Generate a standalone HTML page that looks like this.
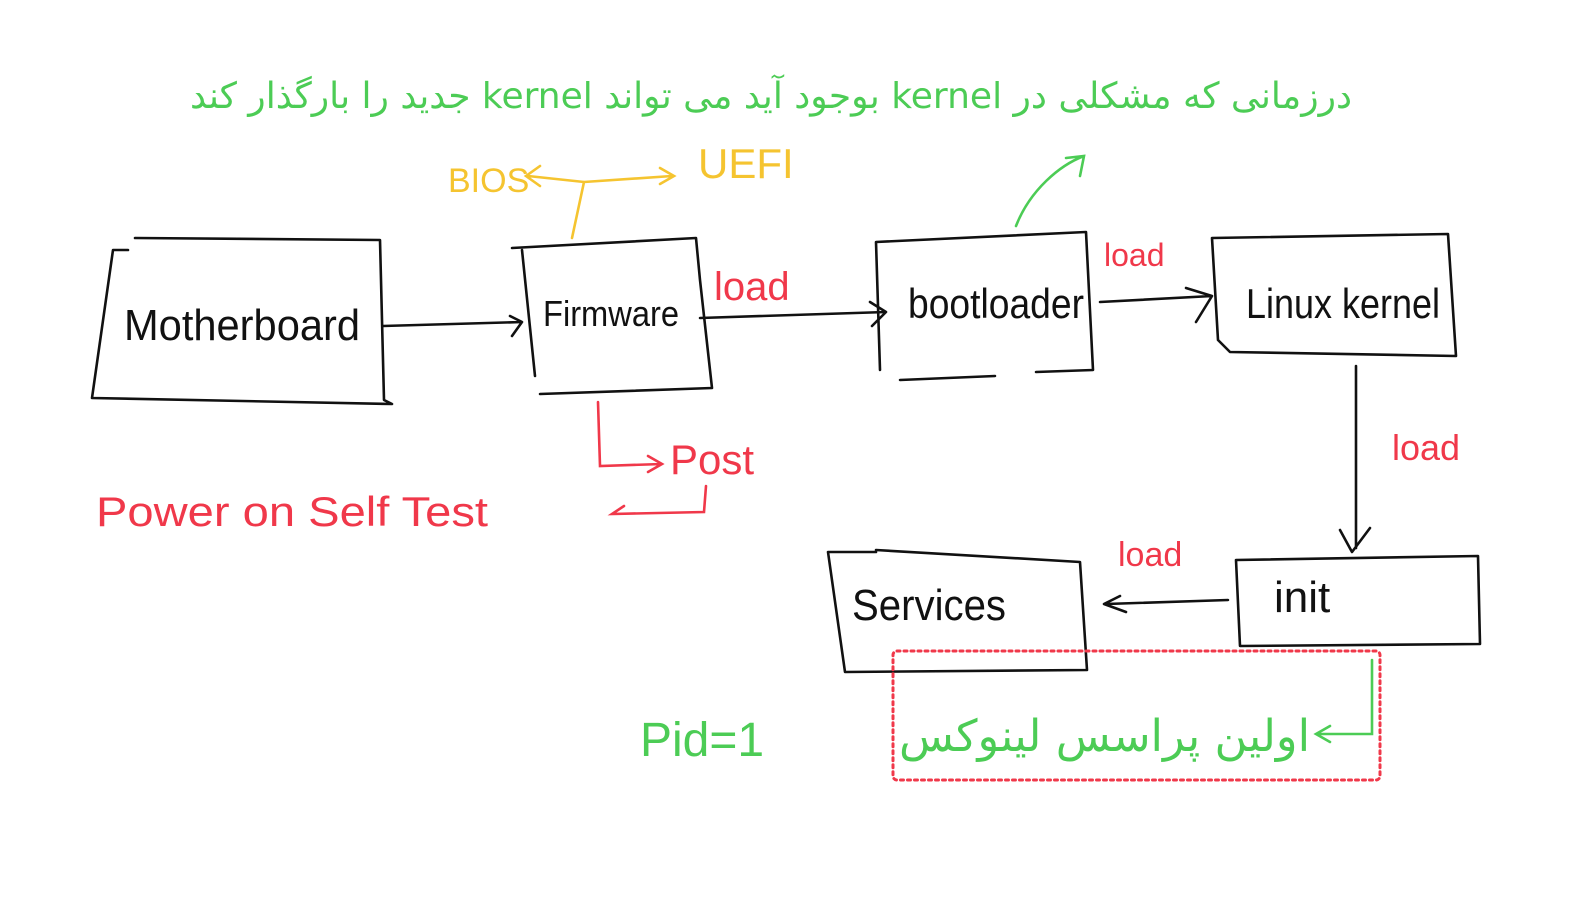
<!DOCTYPE html>
<html><head><meta charset="utf-8"><style>
html,body{margin:0;padding:0;background:#fff;}
body{position:relative;width:1585px;height:922px;overflow:hidden}
svg{display:block;position:absolute;left:0;top:0}
text{font-family:"Liberation Sans","DejaVu Sans",sans-serif;}
.ar{position:absolute;font-family:"DejaVu Sans","Noto Sans CJK SC",sans-serif;color:#4ccc55;direction:rtl;white-space:nowrap;transform-origin:right center}
</style></head><body>
<svg width="1585" height="922" viewBox="0 0 1585 922" xmlns="http://www.w3.org/2000/svg">
<rect width="1585" height="922" fill="#fff"/>
<g fill="none" stroke="#111" stroke-width="2.6" stroke-linecap="round" stroke-linejoin="round">
<path d="M135 238 L380 240 L384 400 L392 404 L92 398 L113 250 L128 250"/>
<path d="M512 248 L696 238 L700 280 L712 388 L540 394 M522 250 L535 376"/>
<path d="M876 242 L1086 232 L1093 370 L1036 372 M995 376 L900 380 M876 242 L880 370"/>
<path d="M1212 238 L1448 234 L1456 356 L1230 352 L1218 340 L1212 238"/>
<path d="M1236 560 L1478 556 L1480 644 L1240 646 L1236 560"/>
<path d="M876 550 L1080 562 L1087 670 L845 672 L828 552 L876 552"/>
<path d="M383 326 L522 322 M510 316 L522 322 L512 336"/>
<path d="M700 318 L886 312 M870 302 L886 312 L872 326"/>
<path d="M1100 302 L1212 296 M1186 288 L1212 296 L1196 322"/>
<path d="M1356 366 L1356 548 M1340 530 L1352 552 L1370 528"/>
<path d="M1228 600 L1106 604 M1120 596 L1104 604 L1126 612"/>
</g>
<g fill="#111">
<text x="124" y="340" font-size="44" textLength="236" lengthAdjust="spacingAndGlyphs">Motherboard</text>
<text x="543" y="326" font-size="36" textLength="136" lengthAdjust="spacingAndGlyphs">Firmware</text>
<text x="908" y="318" font-size="42" textLength="176" lengthAdjust="spacingAndGlyphs">bootloader</text>
<text x="1246" y="318" font-size="42" textLength="194" lengthAdjust="spacingAndGlyphs">Linux kernel</text>
<text x="1274" y="612" font-size="44">init</text>
<text x="852" y="620" font-size="44" textLength="154" lengthAdjust="spacingAndGlyphs">Services</text>
</g>
<g fill="#f0384a">
<text x="714" y="300" font-size="40">load</text>
<text x="1104" y="266" font-size="32">load</text>
<text x="1392" y="460" font-size="36">load</text>
<text x="1118" y="566" font-size="34">load</text>
<text x="670" y="474" font-size="42">Post</text>
<text x="96" y="526" font-size="42" textLength="392" lengthAdjust="spacingAndGlyphs">Power on Self Test</text>
</g>
<g fill="none" stroke="#f0384a" stroke-width="2.6" stroke-linecap="round">
<path d="M598 402 L600 466 L662 464 M648 456 L662 464 L648 472"/>
<path d="M706 486 L704 512 L612 514 L624 506"/>
<rect x="893" y="651" width="487" height="129" rx="4" stroke-dasharray="3 4" stroke-width="3"/>
</g>
<g fill="#4ccc55">
<text x="640" y="756" font-size="48">Pid=1</text>
</g>
<g fill="none" stroke="#4ccc55" stroke-width="2.6" stroke-linecap="round">
<path d="M1016 226 C1030 190 1060 165 1084 156 M1066 158 L1084 156 L1080 176"/>
<path d="M1372 660 L1372 734 L1318 734 M1330 726 L1316 734 L1330 742"/>
</g>
<g fill="#f5c430"><text x="448" y="192" font-size="34">BIOS</text><text x="698" y="178" font-size="42">UEFI</text></g>
<g fill="none" stroke="#f5c430" stroke-width="2.6" stroke-linecap="round">
<path d="M572 238 L584 182 M528 176 L584 182 L672 176 M540 166 L526 176 L540 186 M660 168 L674 176 L660 184"/>
</g>
</svg>
<div class="ar" style="right:233px;top:72px;font-size:36px;line-height:50px;transform:scaleX(1.0)">درزمانی که مشکلی در kernel بوجود آید می تواند kernel جدید را بارگذار کند</div>
<div class="ar" style="right:275px;top:707px;font-size:44px;line-height:60px;transform:scaleX(1.02)">اولین پراسس لینوکس</div>
</body></html>
